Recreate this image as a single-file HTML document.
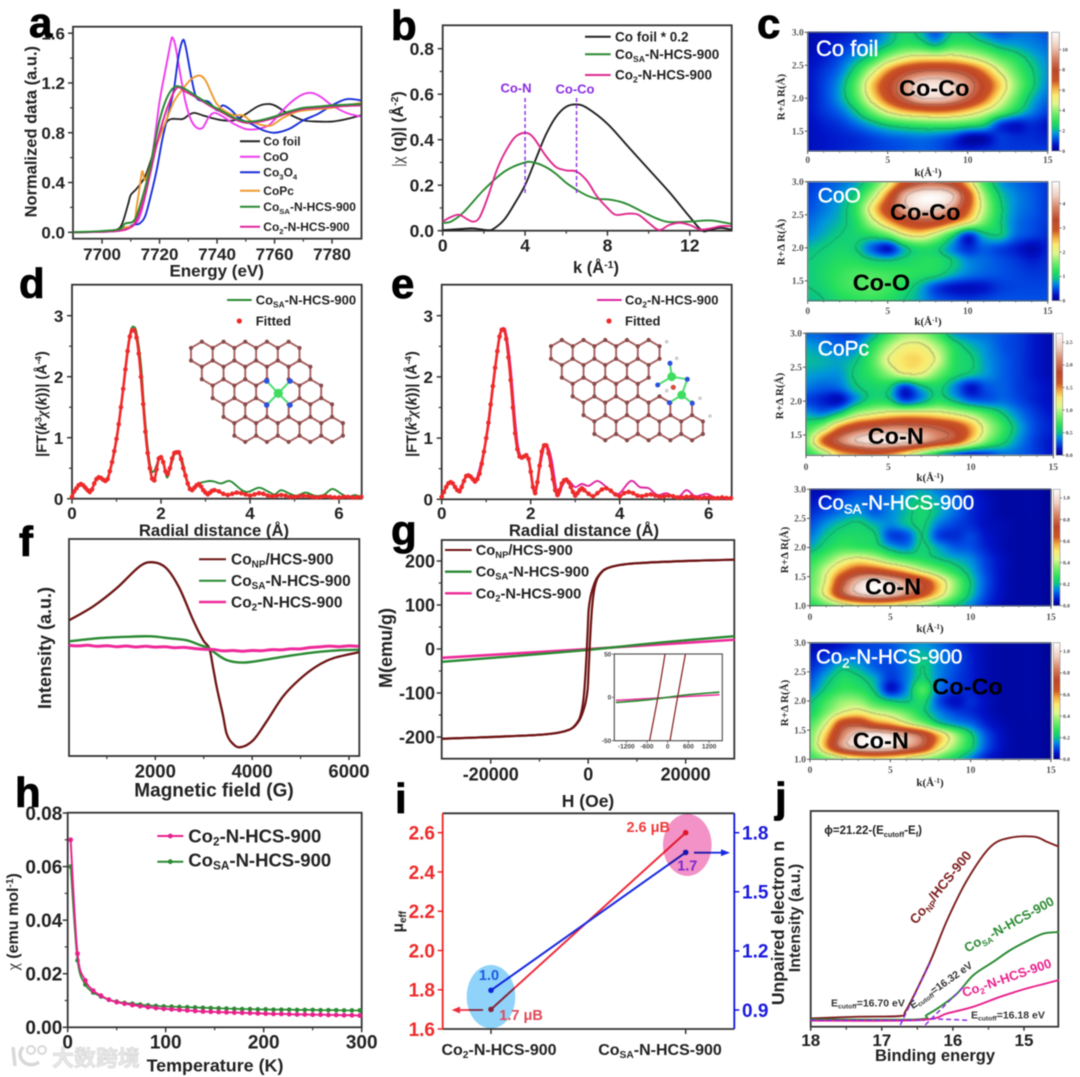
<!DOCTYPE html>
<html lang="en">
<head>
<meta charset="utf-8">
<title>Co-N-HCS-900 characterization figure</title>
<style>
html,body{margin:0;padding:0;background:#fff;}
body{position:relative;width:1080px;height:1077px;overflow:hidden;}
canvas{position:absolute;filter:blur(.7px);}
#fig{position:absolute;left:0;top:0;filter:blur(.55px);}
text{font-family:"Liberation Sans",sans-serif;font-weight:700;fill:#222;}
.s{font-size:.64em;}
.serif{font-family:"Liberation Serif",serif;}
.letter{font-size:42px;fill:#000;stroke:#000;stroke-width:.8;}
.maptitle{fill:#fff;font-weight:400;stroke:#fff;stroke-width:.45;}
</style>
</head>
<body>
<canvas id="heat-0"></canvas>
<canvas id="heat-1"></canvas>
<canvas id="heat-2"></canvas>
<canvas id="heat-3"></canvas>
<canvas id="heat-4"></canvas>
<svg id="fig" xmlns="http://www.w3.org/2000/svg" width="1080" height="1077" viewBox="0 0 1080 1077">
<g id="plots"></g>

<!-- panel a text -->
<g>
<text x="30.7" y="131.7" font-size="16.5" text-anchor="middle" transform="rotate(-90 30.7 131.7) translate(0 6)">Normalized data (a.u.)</text>
<text x="216.7" y="276.5" font-size="17" text-anchor="middle">Energy (eV)</text>
<g font-size="12">
<line x1="240" x2="260" y1="141.3" y2="141.3" stroke="#222" stroke-width="2"/>
<text x="263.3" y="145.5">Co foil</text>
<line x1="240" x2="260" y1="156.7" y2="156.7" stroke="#ee3cee" stroke-width="2"/>
<text x="263.3" y="160.9">CoO</text>
<line x1="240" x2="260" y1="172.3" y2="172.3" stroke="#1a2fd8" stroke-width="2"/>
<text x="263.3" y="176.5">Co<tspan class="s" dy="3">3</tspan><tspan dy="-3">O</tspan><tspan class="s" dy="3">4</tspan></text>
<line x1="240" x2="260" y1="190.7" y2="190.7" stroke="#ee9a30" stroke-width="2"/>
<text x="263.3" y="194.9">CoPc</text>
<line x1="240" x2="260" y1="206.7" y2="206.7" stroke="#2a8a32" stroke-width="2"/>
<text x="263.3" y="210.9">Co<tspan class="s" dy="3">SA</tspan><tspan dy="-3">-N-HCS-900</tspan></text>
<line x1="240" x2="260" y1="226.7" y2="226.7" stroke="#e0259f" stroke-width="2"/>
<text x="263.3" y="230.9">Co<tspan class="s" dy="3">2</tspan><tspan dy="-3">-N-HCS-900</tspan></text>
</g>
</g>

<!-- panel b text -->
<g>
<text x="397" y="129" font-size="16" text-anchor="middle" transform="rotate(-90 397 129) translate(0 6)"><tspan class="serif" font-weight="400">|χ</tspan> (q)| (Å<tspan class="s" dy="-5">-2</tspan><tspan dy="5">)</tspan></text>
<text x="596" y="273" font-size="16.5" text-anchor="middle">k (Å<tspan class="s" dy="-5">-1</tspan><tspan dy="5">)</tspan></text>
<text x="516" y="92.5" font-size="13" text-anchor="middle" style="fill:#8a2be2">Co-N</text>
<text x="575" y="93.5" font-size="13" text-anchor="middle" style="fill:#8a2be2">Co-Co</text>
<g font-size="13.5">
<line x1="585" x2="610.7" y1="36.7" y2="36.7" stroke="#222" stroke-width="2"/>
<text x="615" y="41.5">Co foil * 0.2</text>
<line x1="585" x2="610.7" y1="54.3" y2="54.3" stroke="#2a8a32" stroke-width="2"/>
<text x="615" y="59">Co<tspan class="s" dy="3">SA</tspan><tspan dy="-3">-N-HCS-900</tspan></text>
<line x1="585" x2="610.7" y1="75" y2="75" stroke="#df2a90" stroke-width="2"/>
<text x="615" y="79.7">Co<tspan class="s" dy="3">2</tspan><tspan dy="-3">-N-HCS-900</tspan></text>
</g>
</g>

<!-- panel c text -->
<g>
<text class="maptitle" x="816" y="56" font-size="22" style="fill:#fff">Co foil</text>
<text x="899" y="96" font-size="23.5" style="fill:#000">Co-Co</text>
<text class="maptitle" x="817.7" y="202.7" font-size="21" style="fill:#fff">CoO</text>
<text x="890" y="220" font-size="23.5" style="fill:#000">Co-Co</text>
<text x="852.7" y="290.7" font-size="23.5" style="fill:#000">Co-O</text>
<text class="maptitle" x="817.7" y="355.3" font-size="21" style="fill:#fff">CoPc</text>
<text x="867.7" y="444" font-size="23.5" style="fill:#000">Co-N</text>
<text class="maptitle" x="817.7" y="509.3" font-size="20.5" style="fill:#fff">Co<tspan class="s" dy="4">SA</tspan><tspan dy="-4">-N-HCS-900</tspan></text>
<text x="865" y="594.3" font-size="23.5" style="fill:#000">Co-N</text>
<text class="maptitle" x="816" y="663.3" font-size="20.5" style="fill:#fff">Co<tspan class="s" dy="4">2</tspan><tspan dy="-4">-N-HCS-900</tspan></text>
<text x="852.7" y="748.3" font-size="23.5" style="fill:#000">Co-N</text>
<text x="932.3" y="694.3" font-size="23.5" style="fill:#000">Co-Co</text>
<g class="serif" font-size="11">
<text class="serif" x="928" y="176" text-anchor="middle" font-size="11">k(Å<tspan class="s" dy="-3">-1</tspan><tspan dy="3">)</tspan></text>
<text class="serif" x="928" y="325" text-anchor="middle" font-size="11">k(Å<tspan class="s" dy="-3">-1</tspan><tspan dy="3">)</tspan></text>
<text class="serif" x="930" y="481" text-anchor="middle" font-size="11">k(Å<tspan class="s" dy="-3">-1</tspan><tspan dy="3">)</tspan></text>
<text class="serif" x="930" y="632" text-anchor="middle" font-size="11">k(Å<tspan class="s" dy="-3">-1</tspan><tspan dy="3">)</tspan></text>
<text class="serif" x="930" y="786" text-anchor="middle" font-size="11">k(Å<tspan class="s" dy="-3">-1</tspan><tspan dy="3">)</tspan></text>
<text class="serif" x="780.7" y="97" text-anchor="middle" font-size="11" transform="rotate(-90 780.7 97) translate(0 4)">R+Δ R(Å)</text>
<text class="serif" x="780.7" y="242" text-anchor="middle" font-size="11" transform="rotate(-90 780.7 242) translate(0 4)">R+Δ R(Å)</text>
<text class="serif" x="779" y="396" text-anchor="middle" font-size="11" transform="rotate(-90 779 396) translate(0 4)">R+Δ R(Å)</text>
<text class="serif" x="784" y="550" text-anchor="middle" font-size="11" transform="rotate(-90 784 550) translate(0 4)">R+Δ R(Å)</text>
<text class="serif" x="784" y="703" text-anchor="middle" font-size="11" transform="rotate(-90 784 703) translate(0 4)">R+Δ R(Å)</text>
</g>
</g>

<!-- panel d text -->
<g>
<text x="41.7" y="404" font-size="14.5" text-anchor="middle" transform="rotate(-90 41.7 404) translate(0 5)">|FT(<tspan font-style="italic">k</tspan><tspan class="s" dy="-5">3</tspan><tspan dy="5" class="serif" font-style="italic">χ</tspan>(<tspan font-style="italic">k</tspan>))| (Å<tspan class="s" dy="-5">-4</tspan><tspan dy="5">)</tspan></text>
<text x="214" y="536" font-size="16.7" text-anchor="middle">Radial distance (Å)</text>
<line x1="227" x2="251.7" y1="300" y2="300" stroke="#2a8a32" stroke-width="2"/>
<text x="255.7" y="304.5" font-size="13">Co<tspan class="s" dy="3">SA</tspan><tspan dy="-3">-N-HCS-900</tspan></text>
<circle cx="239.3" cy="321" r="2.6" fill="#ee2a2a"/>
<text x="255.7" y="325.5" font-size="13">Fitted</text>
</g>

<!-- panel e text -->
<g>
<text x="411.7" y="404" font-size="14.5" text-anchor="middle" transform="rotate(-90 411.7 404) translate(0 5)">|FT(<tspan font-style="italic">k</tspan><tspan class="s" dy="-5">3</tspan><tspan dy="5" class="serif" font-style="italic">χ</tspan>(<tspan font-style="italic">k</tspan>))| (Å<tspan class="s" dy="-5">-4</tspan><tspan dy="5">)</tspan></text>
<text x="584" y="536" font-size="16.7" text-anchor="middle">Radial distance (Å)</text>
<line x1="597" x2="621.7" y1="300" y2="300" stroke="#e0259f" stroke-width="2"/>
<text x="625" y="304.5" font-size="13">Co<tspan class="s" dy="3">2</tspan><tspan dy="-3">-N-HCS-900</tspan></text>
<circle cx="609" cy="321" r="2.6" fill="#ee2a2a"/>
<text x="625" y="325.5" font-size="13">Fitted</text>
</g>

<!-- panel f text -->
<g>
<text x="45" y="648" font-size="18" text-anchor="middle" transform="rotate(-90 45 648) translate(0 6)">Intensity (a.u.)</text>
<text x="214" y="796.7" font-size="19" text-anchor="middle">Magnetic field (G)</text>
<line x1="199" x2="226" y1="559.3" y2="559.3" stroke="#6e1414" stroke-width="2"/>
<text x="231" y="564.7" font-size="15.5">Co<tspan class="s" dy="3">NP</tspan><tspan dy="-3">/HCS-900</tspan></text>
<line x1="199" x2="226" y1="580.7" y2="580.7" stroke="#2a8a32" stroke-width="2"/>
<text x="231" y="586" font-size="15.5">Co<tspan class="s" dy="3">SA</tspan><tspan dy="-3">-N-HCS-900</tspan></text>
<line x1="199" x2="226" y1="602" y2="602" stroke="#ee2a9a" stroke-width="2.4"/>
<text x="231" y="607.3" font-size="15.5">Co<tspan class="s" dy="3">2</tspan><tspan dy="-3">-N-HCS-900</tspan></text>
</g>

<!-- panel g text -->
<g>
<text x="386" y="648" font-size="18" text-anchor="middle" transform="rotate(-90 386 648) translate(0 6)">M(emu/g)</text>
<text x="588" y="807" font-size="17.5" text-anchor="middle">H (Oe)</text>
<line x1="445" x2="471.7" y1="550" y2="550" stroke="#6e1414" stroke-width="2"/>
<text x="475.7" y="555" font-size="14.7">Co<tspan class="s" dy="3">NP</tspan><tspan dy="-3">/HCS-900</tspan></text>
<line x1="445" x2="471.7" y1="571.7" y2="571.7" stroke="#2a8a32" stroke-width="2.4"/>
<text x="475.7" y="576.7" font-size="14.7">Co<tspan class="s" dy="3">SA</tspan><tspan dy="-3">-N-HCS-900</tspan></text>
<line x1="445" x2="471.7" y1="593.3" y2="593.3" stroke="#ee2a9a" stroke-width="2.4"/>
<text x="475.7" y="598.3" font-size="14.7">Co<tspan class="s" dy="3">2</tspan><tspan dy="-3">-N-HCS-900</tspan></text>
</g>

<!-- panel h text -->
<g>
<text x="12" y="921.7" font-size="16" text-anchor="middle" transform="rotate(-90 12 921.7) translate(0 6)"><tspan class="serif" font-weight="400">χ</tspan> (emu mol<tspan class="s" dy="-5">-1</tspan><tspan dy="5">)</tspan></text>
<text x="215" y="1071.7" font-size="17.9" text-anchor="middle">Temperature (K)</text>
<text x="188.3" y="842.5" font-size="18.5">Co<tspan class="s" dy="3">2</tspan><tspan dy="-3">-N-HCS-900</tspan></text>
<text x="188.3" y="866.5" font-size="18.5">Co<tspan class="s" dy="3">SA</tspan><tspan dy="-3">-N-HCS-900</tspan></text>
<line x1="157.3" x2="183.3" y1="836" y2="836" stroke="#e8208c" stroke-width="2"/>
<circle cx="170.3" cy="836" r="2.4" fill="#e8208c"/>
<line x1="157.3" x2="183.3" y1="861.7" y2="861.7" stroke="#2a8a32" stroke-width="2"/>
<circle cx="170.3" cy="861.7" r="2.4" fill="#2a8a32"/>
</g>

<!-- watermark -->
<g>
<path d="M13 1047 L15 1066 M23 1047 Q16 1056 25 1063 Q32 1067 39 1062" fill="none" stroke="#d8d8d8" stroke-width="3.4"/>
<circle cx="31" cy="1050" r="4" fill="none" stroke="#d8d8d8" stroke-width="2"/>
<circle cx="42" cy="1050" r="4" fill="none" stroke="#d8d8d8" stroke-width="2"/>
<text x="52" y="1066" font-size="22" style="font-family:'Liberation Sans','Noto Sans CJK SC',sans-serif;fill:#e8e8e8;stroke:#cfcfcf;stroke-width:.5;font-weight:700">大数跨境</text>
</g>

<!-- panel i text -->
<g>
<text x="398" y="921.7" font-size="15.5" text-anchor="middle" transform="rotate(-90 398 921.7) translate(0 5)">μ<tspan class="s" dy="3">eff</tspan></text>
<text x="499" y="1055" font-size="16" text-anchor="middle">Co<tspan class="s" dy="3">2</tspan><tspan dy="-3">-N-HCS-900</tspan></text>
<text x="660" y="1055" font-size="16" text-anchor="middle">Co<tspan class="s" dy="3">SA</tspan><tspan dy="-3">-N-HCS-900</tspan></text>
<text x="670" y="832" font-size="14.5" text-anchor="end" style="fill:#ee3a3a">2.6 μB</text>
<text x="687.3" y="870.7" font-size="14.5" text-anchor="middle" style="fill:#7a2ad0">1.7</text>
<text x="489" y="980" font-size="14.5" text-anchor="middle" style="fill:#1a5ae0">1.0</text>
<text x="499.3" y="1020" font-size="14.5" style="fill:#e04858">1.7 μB</text>
<text x="778" y="923" font-size="17.5" text-anchor="middle" transform="rotate(-90 778 923) translate(0 6)">Unpaired electron n</text>
</g>

<!-- panel j text -->
<g>
<text x="795" y="918" font-size="16" text-anchor="middle" transform="rotate(-90 795 918) translate(0 5)">Intensity (a.u.)</text>
<text x="935" y="1061" font-size="16.5" text-anchor="middle">Binding energy</text>
<text x="824.3" y="834" font-size="11.5">ϕ=21.22-(E<tspan class="s" dy="3">cutoff</tspan><tspan dy="-3">-E</tspan><tspan class="s" dy="3">f</tspan><tspan dy="-3">)</tspan></text>
<text x="831" y="1006.7" font-size="10.5" style="fill:#333">E<tspan class="s" dy="2">cutoff</tspan><tspan dy="-2">=16.70 eV</tspan></text>
<text x="912.7" y="1009.3" font-size="10.5" transform="rotate(-35 912.7 1009.3)" style="fill:#333">E<tspan class="s" dy="2">cutoff</tspan><tspan dy="-2">=16.32 eV</tspan></text>
<text x="971" y="1018.7" font-size="10.5" style="fill:#333">E<tspan class="s" dy="2">cutoff</tspan><tspan dy="-2">=16.18 eV</tspan></text>
<text x="916" y="925" font-size="13.5" transform="rotate(-51 916 925)" style="fill:#7c1e1e">Co<tspan class="s" dy="3">NP</tspan><tspan dy="-3">/HCS-900</tspan></text>
<text x="967.3" y="952.7" font-size="13" transform="rotate(-29 967.3 952.7)" style="fill:#2a8a32">Co<tspan class="s" dy="3">SA</tspan><tspan dy="-3">-N-HCS-900</tspan></text>
<text x="964" y="997.3" font-size="13" transform="rotate(-19 964 997.3)" style="fill:#e8208c">Co<tspan class="s" dy="3">2</tspan><tspan dy="-3">-N-HCS-900</tspan></text>
</g>

<!-- panel letters -->
<g>
<text class="letter" x="29" y="37">a</text>
<text class="letter" x="391" y="40">b</text>
<text class="letter" x="757" y="38">c</text>
<text class="letter" x="19" y="298">d</text>
<text class="letter" x="391" y="298">e</text>
<text class="letter" x="19" y="556">f</text>
<text class="letter" x="391" y="545">g</text>
<text class="letter" x="15" y="807">h</text>
<text class="letter" x="395" y="813">i</text>
<text class="letter" x="775" y="812">j</text>
</g>
</svg>

<script>
/* ---------- panel a data: [energy eV, normalized] ---------- */
const aFoil=[[7690,0],[7700,.005],[7705,.02],[7707,.07],[7709,.22],[7710,.3],[7712,.35],[7715,.45],[7718,.65],[7720,.78],[7722,.87],[7724,.91],[7728,.91],[7730,.94],[7732,.96],[7735,.94],[7738,.92],[7742,.9],[7746,.9],[7750,.95],[7754,1.01],[7757,1.03],[7760,1.02],[7765,.95],[7770,.9],[7775,.89],[7780,.89],[7785,.91],[7790,.94]];
const aCoO=[[7690,0],[7705,.01],[7710,.05],[7713,.12],[7716,.4],[7718,.7],[7720,1.05],[7722,1.3],[7723,1.42],[7724,1.54],[7724.5,1.565],[7725.5,1.5],[7727,1.3],[7729,1.05],[7731,.9],[7733,.84],[7735,.84],[7737,.92],[7739,.96],[7742,.93],[7746,.87],[7750,.83],[7754,.83],[7758,.86],[7762,.96],[7766,1.05],[7770,1.11],[7773,1.12],[7776,1.09],[7780,1.02],[7785,.96],[7790,.93]];
const aCo3O4=[[7690,0],[7705,.01],[7711,.06],[7713,.07],[7715,.13],[7717,.3],[7719,.5],[7721,.75],[7723,.95],[7725,1.15],[7726.5,1.4],[7728,1.54],[7729,1.5],[7731,1.25],[7732.5,1.1],[7734,1.06],[7737,1.05],[7740,.98],[7742,1.02],[7745,.98],[7748,.91],[7752,.87],[7756,.82],[7760,.8],[7765,.83],[7770,.9],[7775,.95],[7780,1.02],[7785,1.07],[7790,1.06]];
const aCoPc=[[7690,0],[7705,.01],[7708,.04],[7711,.06],[7712,.2],[7713,.35],[7714,.49],[7715,.42],[7717,.55],[7719,.7],[7722,.88],[7725,1.05],[7728,1.15],[7731,1.23],[7734,1.26],[7736,1.22],[7738,1.12],[7740,1.03],[7743,.97],[7746,.94],[7749,.94],[7752,.89],[7756,.86],[7759,.86],[7763,.92],[7768,.97],[7775,.99],[7780,1],[7785,1.02],[7790,1.04]];
const aCo2=[[7690,0],[7705,.01],[7710,.04],[7712,.1],[7715,.3],[7718,.6],[7720,.8],[7723,1.02],[7726,1.16],[7729,1.13],[7733,1.08],[7738,1.01],[7742,.96],[7746,.91],[7750,.88],[7755,.89],[7760,.92],[7765,.96],[7770,.99],[7775,1],[7780,1.01],[7790,1.02]];
const aCoSA=[[7690,0],[7705,.02],[7708,.07],[7711,.09],[7713,.2],[7716,.45],[7718,.68],[7720,.9],[7722,1.05],[7724,1.14],[7726,1.175],[7729,1.15],[7733,1.09],[7738,1.02],[7742,.97],[7746,.92],[7750,.89],[7755,.9],[7760,.93],[7765,.97],[7770,1],[7775,1.01],[7780,1.02],[7790,1.03]];
const aXTicks=[7700,7720,7740,7760,7780];
const aYTicks=[0,.4,.8,1.2,1.6];

/* ---------- panel b data ---------- */
const bFoil=[[0,.002],[1,.008],[1.5,.01],[2.2,.002],[2.5,.01],[3,.05],[3.5,.12],[4,.2],[4.5,.31],[5,.42],[5.5,.5],[6,.545],[6.5,.555],[7,.54],[8,.47],[9,.37],[10,.27],[11,.17],[12,.06],[12.6,0],[13,.005],[13.5,.012],[14,.005]];
const bCoSA=[[0,.035],[.4,.04],[1,.08],[2,.18],[3,.26],[4,.3],[4.5,.298],[5,.28],[5.5,.25],[6,.21],[6.5,.18],[7,.155],[7.5,.14],[8,.138],[8.5,.13],[9,.115],[10,.07],[10.5,.05],[11,.038],[12,.04],[13,.045],[14,.03]];
const bCo2=[[0,.04],[.4,.06],[.8,.07],[1.2,.05],[1.5,.04],[1.8,.06],[2.2,.15],[2.6,.26],[3,.34],[3.5,.41],[4,.43],[4.4,.41],[5,.33],[5.5,.28],[6,.265],[6.5,.26],[7,.22],[7.5,.15],[8,.1],[8.4,.07],[9,.075],[9.5,.07],[10,.035],[10.5,.003],[11,.025],[11.5,.035],[12,.025],[12.5,.005],[13,.01],[13.5,.02],[14,.02]];
const bXTicks=[0,4,8,12];
const bYTicks=[0,.2,.4,.6,.8];
const bMarkersK=[4,6.5];

/* ---------- panel c data: value (% of scale) for k=0..15 (columns), R rows from top at 0.2 A steps ---------- */
const coFoilGrid=[
[3,4,5,7,10,16,22,18,10,20,20,14,10,12,12,10],
[3,5,7,10,14,20,26,25,20,27,27,23,18,16,14,12],
[4,6,10,16,24,36,44,48,48,48,44,38,30,24,18,14],
[5,8,13,24,40,56,68,74,76,74,68,56,42,30,21,15],
[5,9,16,30,50,66,80,92,94,90,80,66,50,34,22,14],
[5,9,16,28,46,62,76,88,90,85,74,60,44,30,18,12],
[5,8,12,20,32,44,52,56,58,56,50,42,32,22,14,9],
[4,6,8,12,17,22,25,27,28,28,26,22,9,5,7,5],
[4,5,6,7,9,11,12,13,12,9,3,3,8,7,7,6],
[4,5,6,7,8,9,10,11,10,7,6,7,8,8,8,8]];
const cooGrid=[
[8,10,12,16,26,42,62,72,74,68,50,28,16,12,10,8],
[9,12,15,22,36,58,84,96,98,90,64,36,20,14,11,8],
[10,13,17,26,46,66,84,92,90,80,60,38,22,14,11,8],
[12,15,18,24,38,52,64,70,68,58,46,32,21,13,10,8],
[14,17,20,22,24,30,42,46,38,24,8,18,20,12,9,7],
[18,20,22,20,11,5,18,24,22,14,7,11,9,6,3,6],
[20,22,24,24,21,20,22,24,24,20,14,12,10,8,6,7],
[20,23,26,28,28,27,26,24,22,17,13,11,10,9,8,8],
[20,22,26,28,29,27,23,17,9,5,4,5,8,9,9,9],
[18,20,23,25,26,24,20,16,11,9,8,9,10,10,10,10]];
const copcGrid=[
[12,11,9,9,16,26,34,34,26,16,13,12,10,8,5,3],
[16,14,12,14,24,36,44,44,36,24,18,14,10,8,5,3],
[18,17,16,19,28,42,48,48,40,25,21,15,11,8,5,3],
[16,15,15,21,26,34,42,42,32,23,19,15,11,8,5,3],
[13,11,12,19,22,21,8,18,22,14,5,10,11,8,6,4],
[9,6,4,15,23,22,10,16,24,19,12,11,12,9,6,4],
[16,14,22,36,42,46,48,48,46,42,36,28,20,13,8,5],
[26,36,56,68,74,78,78,76,72,66,54,38,26,16,9,6],
[32,58,76,88,94,95,92,84,74,66,48,32,22,14,8,5],
[24,34,50,56,60,56,46,32,20,10,6,8,12,11,8,5]];
const cosaGrid=[
[3,3,6,9,10,11,14,16,13,10,6,3,2,2,2,1],
[5,7,10,12,11,13,17,20,16,12,7,4,2,2,2,1],
[7,10,13,15,11,14,18,22,17,12,7,4,2,2,2,1],
[10,15,19,21,17,14,18,21,13,9,7,4,3,2,2,1],
[13,19,23,23,21,9,10,20,9,7,9,5,3,2,2,1],
[17,23,27,26,24,17,14,21,16,11,10,6,3,2,2,1],
[24,31,40,44,40,32,27,24,20,17,14,8,4,2,2,1],
[28,40,54,64,64,58,50,40,32,24,17,9,4,2,2,1],
[30,44,70,88,96,90,80,68,50,34,20,10,4,2,2,1],
[30,46,72,88,94,90,78,64,48,32,19,9,4,2,2,1],
[24,30,38,44,46,44,40,36,28,21,14,7,3,2,2,1]];
const co2Grid=[
[3,3,5,8,9,10,13,15,12,8,5,3,2,2,2,1],
[5,7,10,11,10,10,14,18,14,10,6,3,2,2,2,1],
[7,12,18,16,11,9,13,20,14,10,6,3,2,2,2,1],
[10,17,23,21,16,8,13,21,14,9,6,3,2,2,2,1],
[13,21,26,25,19,5,14,28,13,8,6,3,2,2,2,1],
[19,27,34,34,26,20,19,23,10,4,7,4,2,2,2,1],
[22,32,42,46,40,36,30,22,14,9,7,4,2,2,2,1],
[28,42,66,70,60,54,44,34,22,16,12,6,3,2,2,1],
[32,52,78,92,96,92,84,72,52,36,22,10,4,2,2,1],
[32,54,80,92,96,92,82,70,48,34,22,10,4,2,2,1],
[26,32,40,46,48,46,42,36,30,22,14,6,3,2,2,1]];
const cKTicks=[0,5,10,15];
const cKMinor=[1,2,3,4,6,7,8,9,11,12,13,14];
const cRTicksLong=[1.5,2,2.5,3];
const cRTicksFull=[1,1.5,2,2.5,3];
const barTicksFoil=[0,2,4,6,8,10];
const barTicksCoO=[0,1,2,3,4];
const barTicksCoPc=[0,.5,1,1.5,2,2.5];
const barTicksSA=[0,.2,.4,.6,.8,1];
const cmapStops=[[0,0,0,140],[.05,0,20,200],[.1,0,80,230],[.15,0,150,220],[.19,10,200,130],[.25,40,225,90],[.33,130,240,110],[.4,225,248,140],[.47,250,235,110],[.53,245,170,60],[.59,205,85,35],[.68,190,70,40],[.78,215,130,100],[.88,240,205,190],[1,255,255,255]];
const contourLevels=[.2,.42,.74,.88];

/* ---------- panel d data ---------- */
const dCoSA=[[0,.02],[.08,.15],[.18,.24],[.28,.19],[.4,.11],[.5,.25],[.56,.35],[.65,.33],[.75,.29],[.85,.45],[.95,.75],[1.05,1.2],[1.15,1.8],[1.25,2.45],[1.32,2.75],[1.38,2.82],[1.45,2.72],[1.55,2.2],[1.62,1.5],[1.7,.85],[1.78,.47],[1.85,.46],[1.9,.55],[1.97,.68],[2.05,.62],[2.13,.35],[2.2,.48],[2.3,.72],[2.38,.77],[2.47,.65],[2.55,.4],[2.65,.18],[2.75,.18],[2.85,.25],[3,.28],[3.1,.29],[3.2,.28],[3.35,.25],[3.5,.29],[3.6,.27],[3.8,.15],[3.95,.11],[4.2,.18],[4.4,.12],[4.55,.07],[4.7,.14],[4.9,.08],[5.05,.05],[5.25,.1],[5.45,.05],[5.65,.06],[5.85,.16],[6.05,.08],[6.2,.03],[6.35,.06],[6.5,.03]];
const dFitHead=[.03,.12,.17,.22,.24,.22,.18,.14,.11,.15,.25,.32,.35,.34,.31,.29,.32,.45,.6,.78,.98,1.22,1.5,1.8,2.12,2.42,2.66,2.76,2.76,2.64,2.38,2,1.55,1.1,.75,.5,.33,.3,.48,.66,.68,.6,.45,.4,.5,.66,.75,.76,.76,.65,.5,.38,.25,.16,.14,.18,.22,.24,.2,.14,.1,.07,.1,.13];
const dFitTail=[.14,.12,.08,.06,.08,.1,.09,.07,.05,.07,.09,.08,.05,.04,.05,.06,.05,.03,.03,.04,.05,.04,.03,.02,.03,.04,.03,.02,.02,.03,.03,.02,.02,.03];
const eCo2=[[0,.03],[.08,.18],[.18,.27],[.28,.22],[.38,.13],[.48,.28],[.58,.38],[.68,.33],[.75,.28],[.85,.5],[.95,.8],[1.05,1.2],[1.15,1.8],[1.25,2.4],[1.32,2.72],[1.38,2.8],[1.45,2.7],[1.55,2.15],[1.65,1.3],[1.72,.85],[1.8,.68],[1.9,.72],[1.97,.62],[2.05,.25],[2.1,.13],[2.2,.5],[2.3,.85],[2.37,.88],[2.47,.65],[2.58,.15],[2.63,.06],[2.7,.2],[2.8,.32],[2.9,.27],[3,.2],[3.15,.25],[3.3,.22],[3.5,.3],[3.7,.2],[3.85,.1],[4,.1],[4.25,.3],[4.45,.2],[4.65,.18],[4.85,.07],[5.05,.1],[5.3,.03],[5.5,.15],[5.7,.05],[5.95,.09],[6.15,.03],[6.5,.02]];
const eFitHead=[.04,.12,.2,.26,.28,.26,.2,.15,.13,.2,.3,.38,.39,.37,.33,.29,.33,.42,.58,.78,1,1.25,1.55,1.85,2.15,2.42,2.66,2.77,2.77,2.62,2.32,1.95,1.5,1.08,.82,.7,.68,.7,.72,.66,.45,.2,.1,.28,.55,.78,.88,.88,.75,.55,.33,.15,.07,.15,.26,.31,.32,.28,.2,.12,.06,.1,.15,.18];
const eFitTail=[.15,.09,.05,.1,.16,.18,.14,.08,.05,.1,.12,.1,.06,.05,.07,.08,.06,.04,.05,.06,.05,.03,.03,.04,.04,.03,.02,.03,.03,.02,.02,.03,.02,.02];
const radialXTicks=[0,2,4,6];
const radialYTicks=[0,1,2,3];

/* ---------- panel f data ---------- */
const fCoNP=[[220,28],[720,42],[1200,60],[1680,82],[1960,86],[2230,80],[2500,60],[2783,28],[2990,8],[3114,0],[3196,-20],[3265,-38],[3333,-53],[3402,-68],[3471,-85],[3574,-94],[3746,-99],[4020,-92],[4300,-73],[4640,-48],[4980,-31],[5330,-18],[5670,-10],[6200,-4]];
const fCoSA=[[220,7],[800,10],[1400,11.5],[1900,12],[2300,10],[2650,8],[2920,3.3],[3114,0],[3196,-3.3],[3470,-11.7],[3815,-14.3],[4200,-12],[4700,-8],[5300,-4],[5800,-2],[6200,-1.5]];
const fCo2=[[220,3],[400,2.4],[600,3],[800,2],[1000,2.6],[1200,1.6],[1400,2.3],[1600,1.3],[1800,2],[2000,1.2],[2200,1.6],[2400,.6],[2600,.9],[2800,-.2],[3000,-1],[3200,-1.2],[3400,-2.6],[3600,-2.2],[3800,-3],[4000,-2.2],[4200,-2.4],[4400,-1.4],[4600,-1.6],[4800,-.6],[5000,-.6],[5200,.8],[5400,1.4],[5600,2.2],[5800,1.6],[6000,2.4],[6200,2]];
const fXTicks=[2000,4000,6000];
const fXMinor=[1000,3000,5000];

/* ---------- panel g data ---------- */
const gLoopDown=[[30000,203],[20000,200],[10000,195],[6000,190],[4000,184],[3000,178],[2000,165],[1500,155],[1000,140],[500,120],[100,90],[-76,50],[-286,0],[-524,-50],[-800,-95],[-1100,-125],[-1500,-148],[-2000,-163],[-3000,-177],[-4000,-184],[-6000,-190],[-10000,-195],[-20000,-200],[-30000,-204]];
const gLoopUp=[[-30000,-204],[-20000,-200],[-10000,-195],[-6000,-190],[-4000,-184],[-3000,-178],[-2000,-165],[-1500,-155],[-1000,-140],[-500,-120],[-100,-90],[76,-50],[286,0],[524,50],[800,95],[1100,125],[1500,148],[2000,163],[3000,177],[4000,184],[6000,190],[10000,195],[20000,200],[30000,203]];
const gCoSA=[[-30000,-29],[-15000,-16],[0,-2],[15000,15],[30000,29]];
const gCo2=[[-30000,-20],[0,0],[30000,21]];
const gXTicks=[-20000,0,20000];
const gXMinor=[-10000,10000];
const gYTicks=[-200,-100,0,100,200];
const gInsetXTicks=[-1200,-600,0,600,1200];
const gInsetYTicks=[-50,0,50];
const gInsetDown=[[-76,50],[-286,0],[-524,-50]];
const gInsetUp=[[67,-50],[286,0],[514,50]];
const gInsetSA=[[-1500,-6],[-600,-3],[0,0],[600,3],[1500,6]];
const gInsetCo2=[[-1500,-3.5],[1500,3]];

/* ---------- panel h data ---------- */
const hCo2=[[3,.07],[10,.0275],[18,.0175],[26,.0137],[34,.0118],[42,.0103],[50,.0094],[58,.0088],[66,.0083],[74,.0079],[82,.0075],[90,.0072],[98,.0069],[106,.0067],[114,.0065],[122,.0063],[130,.0061],[138,.0059],[146,.0058],[154,.0057],[162,.0056],[170,.0055],[178,.0054],[186,.0053],[194,.0052],[202,.0051],[210,.005],[218,.005],[226,.0049],[234,.0048],[242,.0048],[250,.0047],[258,.0047],[266,.0046],[274,.0046],[282,.0045],[290,.0045],[298,.0044]];
const hCoSA=[[3,.06],[10,.025],[18,.016],[26,.013],[34,.0115],[42,.0103],[50,.0096],[58,.0091],[66,.0088],[74,.0085],[82,.0082],[90,.008],[98,.0078],[106,.0077],[114,.0076],[122,.0075],[130,.0074],[138,.0073],[146,.0072],[154,.0071],[162,.007],[170,.0069],[178,.0068],[186,.0068],[194,.0067],[202,.0067],[210,.0066],[218,.0066],[226,.0066],[234,.0065],[242,.0065],[250,.0065],[258,.0064],[266,.0064],[274,.0064],[282,.0063],[290,.0063],[298,.0063]];
const hXTicks=[0,100,200,300];
const hXMinor=[50,150,250];
const hYTicks=[0,.02,.04,.06,.08];

/* ---------- panel i data ---------- */
const iCategories=['Co2-N-HCS-900','CoSA-N-HCS-900'];
const iMuEff=[1.7,2.6];
const iUnpaired=[1,1.7];
const iLeftTicks=[1.6,1.8,2,2.2,2.4,2.6];
const iRightTicks=[.9,1.2,1.5,1.8];

/* ---------- panel j data ---------- */
const jCoNP=[[18,8.3],[17.31,10],[16.74,10.7],[16.67,15],[16.51,36.7],[16.3,68.3],[16.08,106.7],[15.8,146.7],[15.47,180],[15.19,189],[14.86,190],[14.68,185],[14.51,180]];
const jCoSA=[[18,7.3],[16.51,7.3],[16.37,11.7],[16.18,20],[15.94,33.3],[15.71,51.7],[15.43,65],[15.19,76.7],[14.91,87.3],[14.72,93.3],[14.51,94.7]];
const jCo2=[[18,6],[16.46,6.7],[16.08,13.3],[15.71,20],[15.33,30],[14.96,38.3],[14.72,42.7],[14.51,46.7]];
const jTangentNP=[[16.74,1.7],[16.3,67]];
const jTangentSA=[[16.39,1.7],[15.85,40]];
const jBaseLow=[[18,6.5],[16.4,6.5]];
const jBaseHigh=[[16.32,8],[15.8,6.5]];
const jXTicks=[18,17,16,15];
const jXMinor=[17.5,16.5,15.5];

/* ---------- helpers ---------- */
const NS='http://www.w3.org/2000/svg';
const plots=document.getElementById('plots');
function mk(parent,tag,attrs,name,txt){
  const el=document.createElementNS(NS,tag);
  for(const k in attrs) el.setAttribute(k,attrs[k]);
  
  
  if(txt!==undefined) el.textContent=txt;
  parent.appendChild(el);
  return el;
}
const scale=(d0,d1,r0,r1)=>v=>r0+(v-d0)*(r1-r0)/(d1-d0);
function smoothD(pts,sx,sy){
  const p=pts.map(q=>[sx(q[0]),sy(q[1])]);
  let d='M'+p[0][0].toFixed(2)+' '+p[0][1].toFixed(2);
  for(let i=0;i<p.length-1;i++){
    const a=p[Math.max(i-1,0)],b=p[i],c=p[i+1],e=p[Math.min(i+2,p.length-1)];
    d+='C'+(b[0]+(c[0]-a[0])/6).toFixed(2)+' '+(b[1]+(c[1]-a[1])/6).toFixed(2)+' '+(c[0]-(e[0]-b[0])/6).toFixed(2)+' '+(c[1]-(e[1]-b[1])/6).toFixed(2)+' '+c[0].toFixed(2)+' '+c[1].toFixed(2);
  }
  return d;
}
function curve(g,pts,sx,sy,color,w,name,extra){
  return mk(g,'path',Object.assign({d:smoothD(pts,sx,sy),fill:'none',stroke:color,'stroke-width':w,'stroke-linejoin':'round'},extra||{}),name);
}
function axes(g,box,sx,sy,o){
  const [l,t,r,b]=box;
  const col=o.color||'#333';
  const tl=o.tickLen||5,tm=o.minorLen||3;
  mk(g,'rect',{x:l,y:t,width:r-l,height:b-t,fill:'none',stroke:col,'stroke-width':o.sw||1.8},o.name+'-frame');
  (o.xTicks||[]).forEach(v=>{
    mk(g,'line',{x1:sx(v),x2:sx(v),y1:b,y2:b+tl,stroke:col,'stroke-width':o.tsw||1.5},o.name+'-x-tick');
    mk(g,'text',{x:sx(v),y:o.xBase,'font-size':o.fs,'text-anchor':'middle'},o.name+'-x-tick-label',o.xFmt?o.xFmt(v):String(v));
  });
  (o.xMinor||[]).forEach(v=>mk(g,'line',{x1:sx(v),x2:sx(v),y1:b,y2:b+tm,stroke:col,'stroke-width':1.2},o.name+'-x-minor-tick'));
  (o.yTicks||[]).forEach(v=>{
    mk(g,'line',{x1:l,x2:l-tl,y1:sy(v),y2:sy(v),stroke:col,'stroke-width':o.tsw||1.5},o.name+'-y-tick');
    mk(g,'text',{x:o.yRight,y:sy(v)+o.fs*.36,'font-size':o.fs,'text-anchor':'end'},o.name+'-y-tick-label',o.yFmt?o.yFmt(v):String(v));
  });
  (o.yMinor||[]).forEach(v=>mk(g,'line',{x1:l,x2:l-tm,y1:sy(v),y2:sy(v),stroke:col,'stroke-width':1.2},o.name+'-y-minor-tick'));
}
const fix1=v=>v.toFixed(1);
const mids=a=>a.slice(1).map((v,i)=>(v+a[i])/2);

/* ---------- panel a ---------- */
(function(){
  const g=mk(plots,'g',{},'panel-a-xanes');
  const box=[73,26.7,361.5,238.7];
  const sx=scale(7690,7790,73.3,360.8), sy=scale(0,1.6,232.3,33.2);
  axes(g,box,sx,sy,{name:'a',xTicks:aXTicks,xMinor:mids(aXTicks),yTicks:aYTicks,yMinor:mids(aYTicks),fs:17,xBase:260,yRight:65,yFmt:fix1});
  curve(g,aFoil,sx,sy,'#222',1.8,'co-foil-curve');
  curve(g,aCoO,sx,sy,'#ee3cee',1.9,'coo-curve');
  curve(g,aCo3O4,sx,sy,'#1a2fd8',1.9,'co3o4-curve');
  curve(g,aCoPc,sx,sy,'#ee9a30',1.9,'copc-curve');
  curve(g,aCo2,sx,sy,'#e0259f',1.9,'co2-curve');
  curve(g,aCoSA,sx,sy,'#2a8a32',2,'cosa-curve');
})();

/* ---------- panel b ---------- */
(function(){
  const g=mk(plots,'g',{},'panel-b-exafs');
  const box=[442.7,25.3,731.7,230.7];
  const sx=scale(0,14,442.7,731), sy=scale(0,.8,230.7,48.7);
  axes(g,box,sx,sy,{name:'b',xTicks:bXTicks,xMinor:[2,6,10],yTicks:bYTicks,yMinor:mids(bYTicks),fs:17.5,xBase:251.7,yRight:434,yFmt:fix1});
  curve(g,bFoil,sx,sy,'#222',1.9,'co-foil-curve');
  curve(g,bCoSA,sx,sy,'#2a8a32',1.9,'cosa-curve');
  curve(g,bCo2,sx,sy,'#df2a90',1.9,'co2-curve');
  bMarkersK.forEach(k=>mk(g,'line',{x1:sx(k),x2:sx(k),y1:98,y2:195,stroke:'#8a2be2','stroke-width':1.4,'stroke-dasharray':'4 2.5'},'peak-marker-line'));
})();

/* ---------- panel c heatmaps ---------- */
function cmap(t){
  t=Math.max(0,Math.min(1,t));
  for(let i=0;i<cmapStops.length-1;i++){
    const a=cmapStops[i],b=cmapStops[i+1];
    if(t<=b[0]){
      const f=(t-a[0])/(b[0]-a[0]);
      return [a[1]+(b[1]-a[1])*f,a[2]+(b[2]-a[2])*f,a[3]+(b[3]-a[3])*f];
    }
  }
  return [255,255,255];
}
const cr=(p0,p1,p2,p3,t)=>.5*(2*p1+(p2-p0)*t+(2*p0-5*p1+4*p2-p3)*t*t+(3*p1-p0-3*p2+p3)*t*t*t);
function sampleGrid(grid,cx,cy){
  const rows=grid.length,cols=grid[0].length;
  const i0=Math.min(Math.floor(cy),rows-2),j0=Math.min(Math.floor(cx),cols-2);
  const ty=cy-i0,tx=cx-j0;
  const at=(i,j)=>grid[Math.max(0,Math.min(rows-1,i))][Math.max(0,Math.min(cols-1,j))];
  const row=i=>cr(at(i,j0-1),at(i,j0),at(i,j0+1),at(i,j0+2),tx);
  return cr(row(i0-1),row(i0),row(i0+1),row(i0+2),ty)/100;
}
function heat(idx,grid,rBottom,box,bar,barMax,barTicks,rTicks,xBase,barFmt){
  const [l,t,r,b]=box;
  const g=mk(plots,'g',{},'heatmap-panel-'+idx);
  const cv=document.getElementById('heat-'+idx);
  const w=Math.round(r-l),h=Math.round(b-t);
  cv.width=w;cv.height=h;
  cv.style.left=l+'px';cv.style.top=t+'px';cv.style.width=(r-l)+'px';cv.style.height=(b-t)+'px';
  const ctx=cv.getContext('2d');
  const img=ctx.createImageData(w,h);
  const f=new Float32Array(w*h);
  for(let y=0;y<h;y++)for(let x=0;x<w;x++){
    f[y*w+x]=sampleGrid(grid,x/(w-1)*(grid[0].length-1),y/(h-1)*(grid.length-1));
  }
  const crossed=(a,c)=>contourLevels.some(v=>(a-v)*(c-v)<0);
  for(let y=0;y<h;y++)for(let x=0;x<w;x++){
    const v=f[y*w+x];
    let c=cmap(v);
    const right=x<w-1?f[y*w+x+1]:v,down=y<h-1?f[(y+1)*w+x]:v;
    if(crossed(v,right)||crossed(v,down)) c=[c[0]*.68+15,c[1]*.68+15,c[2]*.68+15];
    const o=(y*w+x)*4;
    img.data[o]=c[0];img.data[o+1]=c[1];img.data[o+2]=c[2];img.data[o+3]=255;
  }
  ctx.putImageData(img,0,0);
  const sx=scale(0,15,l,r), sy=scale(rBottom,3,b,t);
  mk(g,'rect',{x:l,y:t,width:r-l,height:b-t,fill:'none',stroke:'#4a5a5a','stroke-width':1},'heatmap-frame');
  const tickStyle={'font-size':9.5,class:'serif',style:'fill:#555'};
  cKTicks.forEach(v=>{
    mk(g,'line',{x1:sx(v),x2:sx(v),y1:b,y2:b+3,stroke:'#555','stroke-width':1},'heatmap-x-tick');
    mk(g,'text',Object.assign({x:sx(v),y:xBase,'text-anchor':'middle'},tickStyle),'heatmap-x-tick-label',String(v));
  });
  cKMinor.forEach(v=>mk(g,'line',{x1:sx(v),x2:sx(v),y1:b,y2:b+1.8,stroke:'#666','stroke-width':.8},'heatmap-x-minor-tick'));
  rTicks.forEach(v=>{
    mk(g,'line',{x1:l,x2:l-3,y1:sy(v),y2:sy(v),stroke:'#555','stroke-width':1},'heatmap-y-tick');
    mk(g,'text',Object.assign({x:l-4,y:sy(v)+3.2,'text-anchor':'end'},tickStyle),'heatmap-y-tick-label',fix1(v));
  });
  const grad=mk(g,'linearGradient',{id:'cb'+idx,x1:0,y1:1,x2:0,y2:0},'colorbar-gradient');
  cmapStops.forEach(s=>mk(grad,'stop',{offset:s[0],'stop-color':'rgb('+s[1]+','+s[2]+','+s[3]+')'},'colorbar-stop'));
  mk(g,'rect',{x:bar[0],y:t,width:bar[1]-bar[0],height:b-t,fill:'url(#cb'+idx+')',stroke:'#999','stroke-width':.7},'colorbar');
  const sb=scale(0,barMax,b,t);
  barTicks.forEach(v=>{
    mk(g,'line',{x1:bar[1],x2:bar[1]+2,y1:sb(v),y2:sb(v),stroke:'#555','stroke-width':.7},'colorbar-tick');
    mk(g,'text',{x:bar[1]+3,y:sb(v)+1.8,'font-size':5.5,class:'serif',style:'fill:#444'},'colorbar-tick-label',barFmt(v));
  });
}
const cellInt=v=>String(v);
heat(0,coFoilGrid,1.2,[807.7,32.3,1047.7,151],[1051.7,1059.3],11.7,barTicksFoil,cRTicksLong,163,cellInt);
heat(1,cooGrid,1.2,[807.7,181.7,1047.7,300.7],[1052,1059.5],4.9,barTicksCoO,cRTicksLong,314,cellInt);
heat(2,copcGrid,1.2,[806,333.3,1053.3,455.3],[1056,1062.7],2.7,barTicksCoPc,cRTicksLong,470,fix1);
heat(3,cosaGrid,1,[810,489.3,1051,605.7],[1053.3,1060],1.08,barTicksSA,cRTicksFull,620,fix1);
heat(4,co2Grid,1,[810,642.7,1051,759.3],[1053.3,1060],1.08,barTicksSA,cRTicksFull,773,fix1);

/* ---------- lattices ---------- */
function lattice(g,x0,y0,w,removed){
  const a=w/Math.sqrt(3);
  const atoms={},bonds={};
  for(let r=0;r<5;r++)for(let c=0;c<5;c++){
    const cx=x0+w/2+c*w+r*w/2, cy=y0+a+r*1.5*a;
    const vs=[];
    for(let k=0;k<6;k++){
      const th=Math.PI/6+k*Math.PI/3;
      const px=cx+a*Math.cos(th),py=cy+a*Math.sin(th);
      const key=Math.round(px)+'_'+Math.round(py/2);
      let found=null;
      for(const q in atoms){ if(Math.hypot(atoms[q][0]-px,atoms[q][1]-py)<2){found=q;break;} }
      if(!found){found=key+'_'+Object.keys(atoms).length;atoms[found]=[px,py];}
      vs.push(found);
    }
    for(let k=0;k<6;k++){
      const p=vs[k],q=vs[(k+1)%6];
      bonds[p<q?p+'|'+q:q+'|'+p]=[p,q];
    }
  }
  Object.values(bonds).forEach(bd=>{
    const A=atoms[bd[0]],B=atoms[bd[1]];
    if(removed(A)||removed(B))return;
    mk(g,'line',{x1:A[0],y1:A[1],x2:B[0],y2:B[1],stroke:'#a86060','stroke-width':1.9},'lattice-bond');
  });
  Object.values(atoms).forEach(A=>{
    if(removed(A))return;
    mk(g,'circle',{cx:A[0],cy:A[1],r:2.1,fill:'#8a4a4a'},'lattice-atom');
  });
}
function dot(g,x,y,r,fill,name){mk(g,'circle',{cx:x,cy:y,r:r,fill:fill},name);}
function bond(g,a,b,c,name){mk(g,'line',{x1:a[0],y1:a[1],x2:b[0],y2:b[1],stroke:c,'stroke-width':2},name);}

/* ---------- panels d, e ---------- */
function expandFit(head,tail){
  const out=[];
  head.forEach((v,i)=>out.push([i*.05,v]));
  tail.forEach((v,i)=>out.push([3.2+i*.1,v]));
  return out;
}
(function(){
  const g=mk(plots,'g',{},'panel-d-ft-exafs');
  const box=[72,284.7,361.7,498.7];
  const sx=scale(0,6.5,72,361.3), sy=scale(0,3,498.7,315.7);
  axes(g,box,sx,sy,{name:'d',xTicks:radialXTicks,xMinor:[1,3,5],yTicks:radialYTicks,yMinor:[.5,1.5,2.5],fs:17,xBase:519,yRight:63.3});
  curve(g,dCoSA,sx,sy,'#2a8a32',1.9,'cosa-curve');
  const fit=expandFit(dFitHead,dFitTail);
  curve(g,fit,sx,sy,'#ee2a2a',2.6,'fitted-curve');
  fit.forEach(p=>mk(g,'circle',{cx:sx(p[0]),cy:sy(p[1]),r:2.3,fill:'#ee2a2a'},'fitted-point'));
  const C=[278.3,393.3];
  const la=mk(g,'g',{},'d-structure-inset');
  lattice(la,191,341.7,21.7,A=>Math.hypot(A[0]-C[0],A[1]-C[1])<13);
  const Ns=[[266.7,381],[290,381],[266.7,405],[290,405]];
  Ns.forEach(n=>bond(la,C,n,'#50dc70','co-n-bond'));
  Ns.forEach(n=>dot(la,n[0],n[1],2.8,'#2a50e0','nitrogen-atom'));
  dot(la,C[0],C[1],4.6,'#40dc60','cobalt-atom');
})();
(function(){
  const g=mk(plots,'g',{},'panel-e-ft-exafs');
  const box=[441.7,284.7,731.7,499.3];
  const sx=scale(0,6.5,441.7,731), sy=scale(0,3,499.3,315.7);
  axes(g,box,sx,sy,{name:'e',xTicks:radialXTicks,xMinor:[1,3,5],yTicks:radialYTicks,yMinor:[.5,1.5,2.5],fs:17,xBase:519,yRight:433});
  curve(g,eCo2,sx,sy,'#e0259f',1.9,'co2-curve');
  const fit=expandFit(eFitHead,eFitTail);
  curve(g,fit,sx,sy,'#ee2a2a',2.6,'fitted-curve');
  fit.forEach(p=>mk(g,'circle',{cx:sx(p[0]),cy:sy(p[1]),r:2.3,fill:'#ee2a2a'},'fitted-point'));
  const la=mk(g,'g',{},'e-structure-inset');
  lattice(la,551,340,21.7,A=>Math.hypot(A[0]-678,A[1]-381)<21);
  const co1=[671.7,376.7],co2=[681.7,395];
  const n1=[670,363.3],n2=[687.3,379.3],n3=[657.7,385],n4=[669.3,402.7],n5=[692.3,403.3];
  [[co1,n1],[co1,n2],[co1,n3],[co2,n2],[co2,n4],[co2,n5]].forEach(b=>bond(la,b[0],b[1],'#50dc70','co-n-bond'));
  [n1,n2,n3,n4,n5].forEach(n=>dot(la,n[0],n[1],2.5,'#2a50e0','nitrogen-atom'));
  [[666.7,341.7],[676.7,358.3],[666.7,390.7],[700,398.3],[710,416]].forEach(p=>dot(la,p[0],p[1],1.8,'#ccc','hydrogen-atom'));
  dot(la,673.3,387.3,2.6,'#d05040','oxygen-atom');
  dot(la,co1[0],co1[1],4.4,'#40dc60','cobalt-atom');
  dot(la,co2[0],co2[1],4.4,'#40dc60','cobalt-atom');
})();

/* ---------- panel f ---------- */
(function(){
  const g=mk(plots,'g',{},'panel-f-epr');
  const box=[69,539,359.3,756];
  const sx=scale(2000,6000,155.3,349), sy=scale(0,100,648.3,548.3);
  axes(g,box,sx,sy,{name:'f',xTicks:fXTicks,xMinor:fXMinor,fs:18.5,xBase:777.7,tickLen:4});
  curve(g,fCoNP,sx,sy,'#6e1414',2.3,'conp-curve');
  curve(g,fCoSA,sx,sy,'#2a8a32',2.4,'cosa-curve');
  curve(g,fCo2,sx,sy,'#ee2a9a',3,'co2-curve');
})();

/* ---------- panel g ---------- */
(function(){
  const g=mk(plots,'g',{},'panel-g-vsm');
  const box=[441.7,540,734.3,758.7];
  const sx=scale(-30000,30000,442,734.4), sy=scale(0,200,649,561);
  axes(g,box,sx,sy,{name:'g',xTicks:gXTicks,xMinor:gXMinor,yTicks:gYTicks,yMinor:mids(gYTicks),fs:18,xBase:780.7,yRight:435});
  curve(g,gCo2,sx,sy,'#ee2a9a',2.6,'co2-curve');
  curve(g,gCoSA,sx,sy,'#2a8a32',2.4,'cosa-curve');
  curve(g,gLoopDown,sx,sy,'#6e1414',2.2,'conp-loop-descending');
  curve(g,gLoopUp,sx,sy,'#6e1414',2.2,'conp-loop-ascending');
  const ig=mk(g,'g',{},'g-inset');
  const ib=[614.3,654,722.3,740.7];
  const ix=scale(0,600,667.7,688.4), iy=scale(0,50,697.3,654);
  mk(ig,'rect',{x:ib[0],y:ib[1],width:ib[2]-ib[0],height:ib[3]-ib[1],fill:'#fff',stroke:'#555','stroke-width':1.2},'inset-frame');
  gInsetXTicks.forEach(v=>{
    mk(ig,'line',{x1:ix(v),x2:ix(v),y1:ib[3],y2:ib[3]+2.5,stroke:'#555','stroke-width':.8},'inset-x-tick');
    mk(ig,'text',{x:ix(v),y:748.5,'font-size':6.5,'text-anchor':'middle',style:'fill:#444'},'inset-x-tick-label',String(v));
  });
  gInsetYTicks.forEach(v=>{
    mk(ig,'line',{x1:ib[0],x2:ib[0]-2.5,y1:iy(v),y2:iy(v),stroke:'#555','stroke-width':.8},'inset-y-tick');
    mk(ig,'text',{x:ib[0]-3,y:iy(v)+2.3,'font-size':6.5,'text-anchor':'end',style:'fill:#444'},'inset-y-tick-label',String(v));
  });
  curve(ig,gInsetCo2,ix,iy,'#ee2a9a',1.5,'inset-co2-curve');
  curve(ig,gInsetSA,ix,iy,'#2a8a32',1.7,'inset-cosa-curve');
  curve(ig,gInsetDown,ix,iy,'#8a2a2a',1.3,'inset-conp-descending');
  curve(ig,gInsetUp,ix,iy,'#8a2a2a',1.3,'inset-conp-ascending');
})();

/* ---------- panel h ---------- */
(function(){
  const g=mk(plots,'g',{},'panel-h-susceptibility');
  const box=[67.7,812.7,361.7,1027.3];
  const sx=scale(0,300,67.7,361.7), sy=scale(0,.08,1027.3,813);
  axes(g,box,sx,sy,{name:'h',xTicks:hXTicks,xMinor:hXMinor,yTicks:hYTicks,yMinor:mids(hYTicks),fs:19,xBase:1048.3,yRight:62.3,yFmt:v=>v.toFixed(2)});
  curve(g,hCoSA,sx,sy,'#2a8a32',1.7,'cosa-curve');
  hCoSA.forEach(p=>mk(g,'circle',{cx:sx(p[0]),cy:sy(p[1]),r:2.3,fill:'#2a8a32'},'cosa-point'));
  curve(g,hCo2,sx,sy,'#e8208c',1.9,'co2-curve');
  hCo2.forEach(p=>mk(g,'circle',{cx:sx(p[0]),cy:sy(p[1]),r:2.4,fill:'#e8208c'},'co2-point'));
})();

/* ---------- panel i ---------- */
(function(){
  const g=mk(plots,'g',{},'panel-i-moment');
  const l=442.7,t=813.3,r=734.3,b=1029;
  const sx=scale(0,1,491,685.7), syL=scale(1.6,2.6,1029,832.7), syR=scale(.9,1.8,1010,832.7);
  mk(g,'line',{x1:l,x2:r,y1:t,y2:t,stroke:'#333','stroke-width':1.8},'i-top-spine');
  mk(g,'line',{x1:l,x2:r,y1:b,y2:b,stroke:'#333','stroke-width':1.8},'i-bottom-spine');
  mk(g,'line',{x1:l,x2:l,y1:t,y2:b,stroke:'#ee2222','stroke-width':1.8},'i-left-spine');
  mk(g,'line',{x1:r,x2:r,y1:t,y2:b,stroke:'#1111dd','stroke-width':1.8},'i-right-spine');
  iCategories.forEach((c,i)=>mk(g,'line',{x1:sx(i),x2:sx(i),y1:b,y2:b+5,stroke:'#333','stroke-width':1.5},'i-category-tick'));
  iLeftTicks.forEach(v=>{
    mk(g,'line',{x1:l,x2:l-5,y1:syL(v),y2:syL(v),stroke:'#ee2222','stroke-width':1.5},'i-left-tick');
    mk(g,'text',{x:435,y:syL(v)+6.8,'font-size':19,'text-anchor':'end',style:'fill:#ee2a2a'},'i-left-tick-label',fix1(v));
  });
  iRightTicks.forEach(v=>{
    mk(g,'line',{x1:r,x2:r+5,y1:syR(v),y2:syR(v),stroke:'#1111dd','stroke-width':1.5},'i-right-tick');
    mk(g,'text',{x:742,y:syR(v)+6.8,'font-size':19,style:'fill:#1a1ae0'},'i-right-tick-label',fix1(v));
  });
  iMuEff.slice(1).forEach((v,i)=>mk(g,'line',{x1:sx(i),y1:syL(iMuEff[i]),x2:sx(i+1),y2:syL(v),stroke:'#ee2a3a','stroke-width':2},'mu-eff-line'));
  iUnpaired.slice(1).forEach((v,i)=>mk(g,'line',{x1:sx(i),y1:syR(iUnpaired[i]),x2:sx(i+1),y2:syR(v),stroke:'#1a2ae0','stroke-width':2},'unpaired-electron-line'));
  iMuEff.forEach((v,i)=>mk(g,'circle',{cx:sx(i),cy:syL(v),r:2.8,fill:'#ee2a3a'},'mu-eff-point'));
  iUnpaired.forEach((v,i)=>mk(g,'circle',{cx:sx(i),cy:syR(v),r:2.8,fill:'#1a2ae0'},'unpaired-electron-point'));
  mk(g,'line',{x1:483,x2:457,y1:1010,y2:1010,stroke:'#ee2a3a','stroke-width':1.8},'left-axis-arrow-shaft');
  mk(g,'path',{d:'M451.7 1010 L460 1006.6 L460 1013.4Z',fill:'#ee2a3a'},'left-axis-arrow-head');
  mk(g,'line',{x1:694,x2:724,y1:852.7,y2:852.7,stroke:'#1a2ae0','stroke-width':1.8},'right-axis-arrow-shaft');
  mk(g,'path',{d:'M730 852.7 L721 849.3 L721 856.1Z',fill:'#1a2ae0'},'right-axis-arrow-head');
  mk(g,'ellipse',{cx:491,cy:996.7,rx:24.3,ry:31.7,fill:'#8fd3fa',style:'mix-blend-mode:multiply'},'co2-highlight-ellipse');
  mk(g,'ellipse',{cx:687.3,cy:845,rx:24.3,ry:31,fill:'#f292c6',style:'mix-blend-mode:multiply'},'cosa-highlight-ellipse');
})();

/* ---------- panel j ---------- */
(function(){
  const g=mk(plots,'g',{},'panel-j-ups');
  const box=[810.7,811,1058.3,1026.7];
  const sx=scale(18,15,810.7,1024), sy=scale(0,100,1026.7,926.7);
  axes(g,box,sx,sy,{name:'j',xTicks:jXTicks,xMinor:jXMinor,fs:17,xBase:1046,tickLen:4});
  curve(g,jCoNP,sx,sy,'#7c1e1e',1.9,'conp-curve');
  curve(g,jCoSA,sx,sy,'#2a8a32',1.9,'cosa-curve');
  curve(g,jCo2,sx,sy,'#e8208c',1.9,'co2-curve');
  [jTangentNP,jTangentSA,jBaseLow,jBaseHigh].forEach(t=>{
    mk(g,'line',{x1:sx(t[0][0]),y1:sy(t[0][1]),x2:sx(t[1][0]),y2:sy(t[1][1]),stroke:'#8a2be2','stroke-width':1.5,'stroke-dasharray':'5 3'},'cutoff-tangent-line');
  });
})();
</script>
</body>
</html>
